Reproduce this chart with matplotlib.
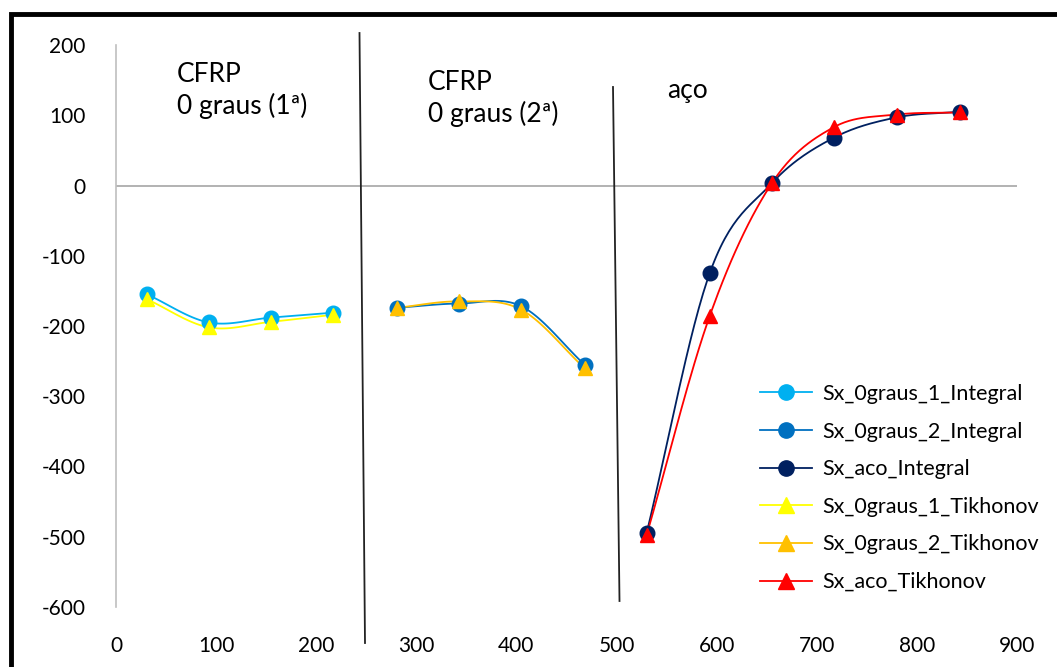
import numpy as np
import matplotlib.pyplot as plt
from matplotlib.lines import Line2D
from matplotlib.patches import Rectangle

plt.rcParams['font.family'] = ['Lato', 'DejaVu Sans']
plt.rcParams['axes.unicode_minus'] = False

# posições (mm) e tensões Sx (MPa)
x_0graus_1 = [31, 93, 155, 217]
sx_0graus_1_integral = [-155, -195, -188, -181]
sx_0graus_1_tikhonov = [-162, -202, -194, -184]

x_0graus_2 = [281, 343, 405, 468]
sx_0graus_2_integral = [-174, -168, -172, -255]
sx_0graus_2_tikhonov = [-174, -165, -177, -260]

x_aco = [530, 593, 655, 717, 780, 843]
sx_aco_integral = [-495, -125, 3, 68, 97, 105]
sx_aco_tikhonov = [-498, -186, 3, 83, 101, 104]

section_labels = ["CFRP\n0 graus (1ª)", "CFRP\n0 graus (2ª)", "aço"]


def smooth(x, y, n=30):
    # curva suavizada tipo Catmull-Rom (como a "linha suavizada" do Excel)
    x = np.asarray(x, float)
    y = np.asarray(y, float)
    px = np.concatenate([[2 * x[0] - x[1]], x, [2 * x[-1] - x[-2]]])
    py = np.concatenate([[2 * y[0] - y[1]], y, [2 * y[-1] - y[-2]]])
    xs, ys = [], []
    t = np.linspace(0, 1, n)
    for i in range(1, len(px) - 2):
        for p, out in ((px, xs), (py, ys)):
            p0, p1, p2, p3 = p[i - 1], p[i], p[i + 1], p[i + 2]
            m1 = (p2 - p0) / 2
            m2 = (p3 - p1) / 2
            h00 = 2 * t**3 - 3 * t**2 + 1
            h10 = t**3 - 2 * t**2 + t
            h01 = -2 * t**3 + 3 * t**2
            h11 = t**3 - t**2
            out.extend(h00 * p1 + h10 * m1 + h01 * p2 + h11 * m2)
    return np.array(xs), np.array(ys)


series = [
    ("Sx_0graus_1_Integral", x_0graus_1, sx_0graus_1_integral, "#00B0F0", "o"),
    ("Sx_0graus_2_Integral", x_0graus_2, sx_0graus_2_integral, "#0070C0", "o"),
    ("Sx_aco_Integral", x_aco, sx_aco_integral, "#002060", "o"),
    ("Sx_0graus_1_Tikhonov", x_0graus_1, sx_0graus_1_tikhonov, "#FFFF00", "^"),
    ("Sx_0graus_2_Tikhonov", x_0graus_2, sx_0graus_2_tikhonov, "#FFC000", "^"),
    ("Sx_aco_Tikhonov", x_aco, sx_aco_tikhonov, "#FF0000", "^"),
]

fig = plt.figure(figsize=(10.57, 6.67), dpi=100)
ax = fig.add_axes([116 / 1057, 1 - 607 / 667, 901 / 1057, 562 / 667])

handles = []
for name, xs, ys, color, mk in series:
    sx, sy = smooth(xs, ys)
    ax.plot(sx, sy, color=color, lw=1.3, zorder=3)
    ax.plot(xs, ys, ls="none", marker=mk, color=color, ms=10.5, zorder=4)
    handles.append(Line2D([], [], color=color, lw=1.3, marker=mk, ms=11, label=name))

ax.set_xlim(0, 900)
ax.set_ylim(-600, 200)
ax.set_xticks(range(0, 901, 100))
ax.set_yticks(range(-600, 201, 100))
ax.axhline(0, color="#A6A6A6", lw=1.2, zorder=1)
for s in ["top", "right", "bottom"]:
    ax.spines[s].set_visible(False)
ax.spines["left"].set_color("#BFBFBF")
ax.spines["left"].set_linewidth(1.2)
ax.tick_params(length=0, labelsize=15, colors="#000000")
ax.tick_params(axis="x", pad=21)
ax.tick_params(axis="y", pad=22)

leg = ax.legend(handles=handles, loc="lower right", bbox_to_anchor=(1.046, -0.008),
                frameon=False, fontsize=15.5, handlelength=2.4, labelspacing=0.82,
                handletextpad=0.5)

# separadores das secções e rótulos
W, H = 1057, 667
for (x0, y0, x1, y1) in [(359.5, 33, 365, 643), (613, 87, 619.5, 601)]:
    fig.add_artist(Line2D([x0 / W, x1 / W], [1 - y0 / H, 1 - y1 / H],
                          color="#222222", lw=1.3))

for (tx, ty), lab in zip([(177, 62), (428, 70), (667, 78)], section_labels):
    fig.text(tx / W, 1 - ty / H, lab, fontsize=19, va="top", ha="left",
             linespacing=1.3)

# moldura
fig.add_artist(Rectangle((10.5 / W, -0.05), 1.1, 1 - 13.5 / H + 0.05,
                         fill=False, edgecolor="black", lw=3.5,
                         transform=fig.transFigure))

fig.savefig("out.png", dpi=100)
